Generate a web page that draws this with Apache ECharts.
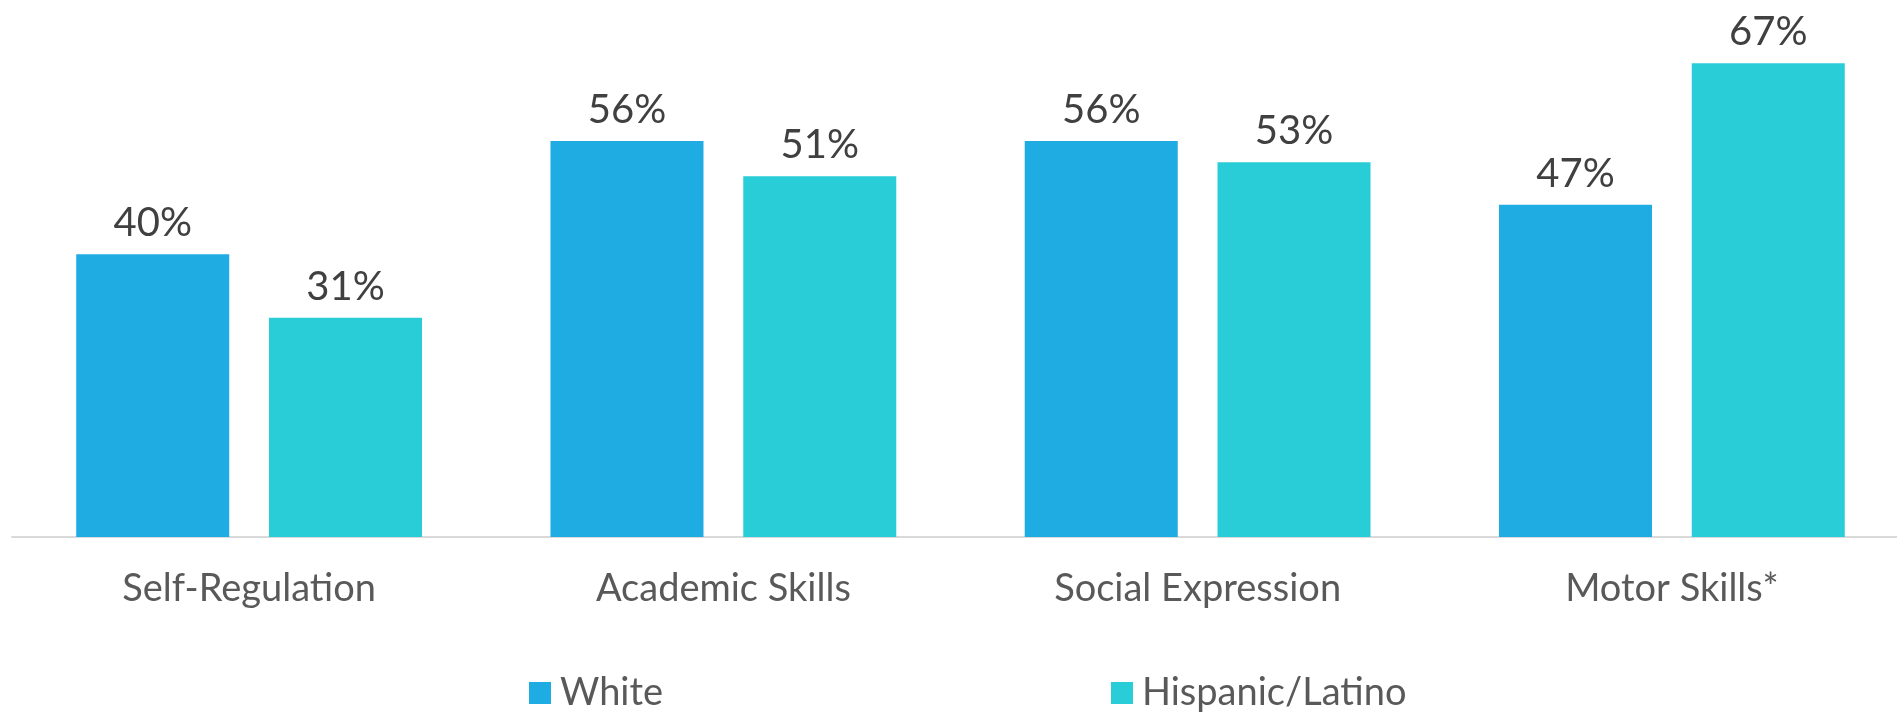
<!DOCTYPE html>
<html>
<head>
<meta charset="utf-8">
<script src="https://cdn.jsdelivr.net/npm/echarts@6/dist/echarts.min.js"></script>
<style>
  html, body { margin: 0; padding: 0; background: #fff; overflow: hidden; }
  #chart { width: 1910px; height: 713px; }
</style>
</head>
<body>
<div id="chart"></div>
<script>
const categories = ['Self-Regulation', 'Academic Skills', 'Social Expression', 'Motor Skills*'];
const whiteValues = [40, 56, 56, 47];
const hispanicValues = [31, 51, 53, 67];
const seriesNames = ['White', 'Hispanic/Latino'];

const FONT = 'Lato';
const colors = ['#1FACE3', '#28CDD7'];

const chart = echarts.init(document.getElementById('chart'));

const valueLabel = {
  show: true,
  position: 'top',
  distance: 11,
  formatter: p => p.value + '%',
  color: '#404040',
  fontFamily: FONT,
  fontSize: 40
};

const legendText = { fontFamily: FONT, fontSize: 38, color: '#595959', padding: [0, 0, 0, 4] };

chart.setOption({
  animation: false,
  grid: { left: 12, top: 42, right: 1, height: 495, containLabel: false },
  legend: [
    { data: [seriesNames[0]], icon: 'rect', left: 529, top: 674, padding: 0, itemWidth: 22, itemHeight: 22, itemGap: 0, textStyle: legendText },
    { data: [seriesNames[1]], icon: 'rect', left: 1111, top: 674, padding: 0, itemWidth: 22, itemHeight: 22, itemGap: 0, textStyle: legendText }
  ],
  xAxis: {
    type: 'category',
    data: categories,
    axisLine: { lineStyle: { color: '#D9D9D9', width: 2 } },
    axisTick: { show: false },
    axisLabel: { color: '#595959', fontFamily: FONT, fontSize: 38, margin: 33 }
  },
  yAxis: { type: 'value', min: 0, max: 70, show: false },
  series: [
    { name: seriesNames[0], type: 'bar', data: whiteValues, barWidth: 153, barGap: '26%',
      itemStyle: { color: colors[0] }, label: valueLabel },
    { name: seriesNames[1], type: 'bar', data: hispanicValues, barWidth: 153, barGap: '26%',
      itemStyle: { color: colors[1] }, label: valueLabel }
  ]
});
</script>
</body>
</html>
